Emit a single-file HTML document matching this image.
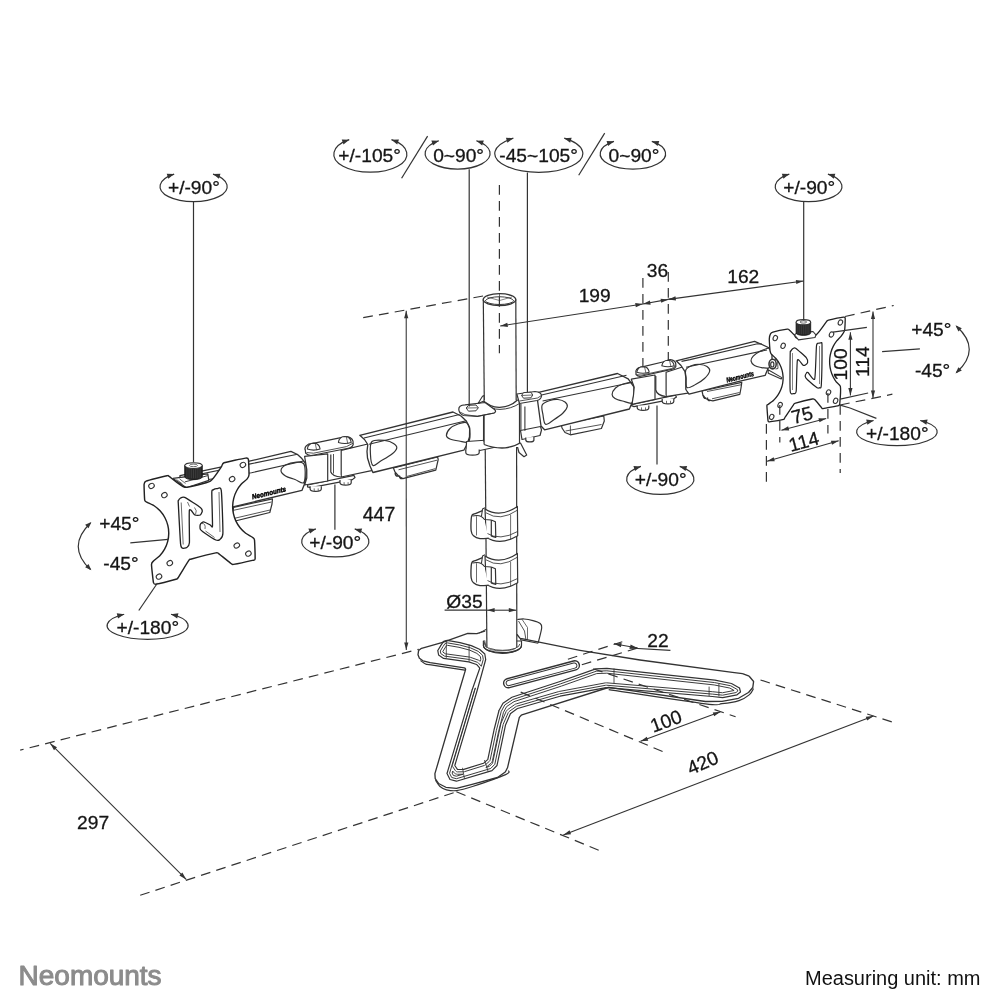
<!DOCTYPE html>
<html><head><meta charset="utf-8"><style>
html,body{margin:0;padding:0;background:#fff;}
svg{display:block;font-family:"Liberation Sans", sans-serif;filter:grayscale(1);}
</style></head><body>
<svg width="1004" height="1004" viewBox="0 0 1004 1004">
<rect width="1004" height="1004" fill="#fff"/>
<path d="M420.50,660.60 C421.42,661.20 424.25,663.48 426.00,664.20 C427.75,664.92 424.25,663.88 431.00,664.90 C437.75,665.92 460.58,669.40 466.50,670.30" fill="none" stroke="#333" stroke-width="1.20" stroke-linejoin="round"/>
<path d="M435.50,780.20 C436.25,781.25 438.17,784.90 440.00,786.50 C441.83,788.10 443.73,789.12 446.50,789.80 C449.27,790.48 452.27,791.15 456.60,790.60 C460.93,790.05 464.33,789.17 472.50,786.50 C480.67,783.83 499.60,777.27 505.60,774.60 C511.60,771.93 508.02,771.18 508.50,770.50" fill="none" stroke="#333" stroke-width="1.20" stroke-linejoin="round"/>
<path d="M608.70,689.60 C624.83,691.97 686.62,701.47 705.50,703.80 C724.38,706.13 716.42,704.13 722.00,703.60 C727.58,703.07 734.42,702.10 739.00,700.60 C743.58,699.10 747.08,696.62 749.50,694.60 C751.92,692.58 752.83,689.52 753.50,688.50" fill="none" stroke="#333" stroke-width="1.20" stroke-linejoin="round"/>
<path d="M418.00,654.60 L418.01,654.64 L419.39,658.17 L419.40,658.20 L419.43,658.22 L422.97,660.78 L423.00,660.80 L423.03,660.81 L430.07,662.59 L430.13,662.61 L464.30,667.94 L464.45,667.97 L464.59,668.01 L464.73,668.07 L464.86,668.14 L464.99,668.23 L465.10,668.33 L465.21,668.44 L465.30,668.55 L465.38,668.68 L465.45,668.82 L465.50,668.96 L465.54,669.10 L465.56,669.25 L465.57,669.40 L465.57,669.55 L465.54,669.70 L465.51,669.85 L459.50,690.00 L434.91,773.67 L434.90,773.70 L434.90,773.73 L435.20,778.46 L435.20,778.50 L435.22,778.53 L438.48,783.47 L438.50,783.50 L438.53,783.52 L445.87,787.28 L445.90,787.30 L445.94,787.30 L456.37,788.30 L456.40,788.30 L456.43,788.29 L472.10,784.30 L472.10,784.30 L497.47,777.51 L497.50,777.50 L497.53,777.48 L505.27,772.02 L505.30,772.00 L505.32,771.97 L507.58,767.44 L507.60,767.40 L507.61,767.36 L519.21,717.78 L519.25,717.63 L519.31,717.49 L519.38,717.36 L519.47,717.23 L519.57,717.11 L521.23,715.30 L521.34,715.19 L521.46,715.09 L521.60,715.00 L521.74,714.93 L521.88,714.88 L608.37,687.50 L608.50,687.47 L608.64,687.45 L608.77,687.43 L608.91,687.44 L609.04,687.45 L705.47,701.50 L705.50,701.50 L705.53,701.50 L721.97,701.30 L722.00,701.30 L722.03,701.29 L738.47,698.31 L738.50,698.30 L738.53,698.28 L748.46,692.52 L748.50,692.50 L748.53,692.47 L752.78,687.53 L752.80,687.50 L752.80,687.46 L753.59,681.54 L753.60,681.50 L753.58,681.47 L749.22,676.23 L749.20,676.20 L749.16,676.19 L742.54,673.62 L742.50,673.60 L742.45,673.59 L732.40,672.30 L732.40,672.30 L640.02,660.00 L639.98,660.00 L580.03,650.40 L579.97,650.39 L520.54,638.41 L520.39,638.37 L520.25,638.32 L520.12,638.25 L519.99,638.18 L519.87,638.08 L519.76,637.98 L519.66,637.87 L517.02,634.53 L517.00,634.50 L516.96,634.50 L487.03,630.30 L487.00,630.30 L486.97,630.31 L476.94,633.52 L476.78,633.57 L476.61,633.59 L476.45,633.59 L467.83,633.40 L467.80,633.40 L467.77,633.41 L441.85,642.58 L441.75,642.61 L421.54,648.29 L421.50,648.30 L421.47,648.32 L418.63,650.58 L418.60,650.60 L418.59,650.63 L418.01,654.56 L418.00,654.60 Z" fill="#fff" stroke="#333" stroke-width="1.32" stroke-linejoin="round"/>
<path d="M437.80,650.50 L437.80,650.52 L438.60,654.99 L438.60,655.00 L438.61,655.01 L443.59,658.39 L443.60,658.40 L443.61,658.40 L468.64,661.79 L468.70,661.80 L468.76,661.82 L476.55,664.55 L476.61,664.57 L476.66,664.60 L476.71,664.64 L476.76,664.68 L476.80,664.72 L479.57,667.94 L479.61,667.98 L479.64,668.03 L479.67,668.08 L479.69,668.13 L479.70,668.19 L479.71,668.25 L479.72,668.30 L479.72,668.36 L479.71,668.42 L479.70,668.47 L479.68,668.53 L472.10,689.99 L472.10,690.01 L447.00,773.49 L447.00,773.50 L447.01,773.51 L449.99,779.49 L450.00,779.50 L450.01,779.50 L456.39,781.20 L456.40,781.20 L456.41,781.20 L491.99,770.60 L492.00,770.60 L492.01,770.59 L496.99,765.51 L497.00,765.50 L497.00,765.49 L505.49,725.06 L505.50,725.00 L505.52,724.94 L510.43,713.65 L510.46,713.60 L510.49,713.56 L510.52,713.51 L510.55,713.47 L510.59,713.44 L510.64,713.40 L517.42,708.56 L517.47,708.52 L517.53,708.49 L517.60,708.47 L559.97,696.21 L560.03,696.19 L606.12,687.61 L606.17,687.61 L606.23,687.60 L606.28,687.61 L712.29,696.50 L712.31,696.50 L722.69,697.60 L722.70,697.60 L722.71,697.60 L736.99,694.80 L737.00,694.80 L737.01,694.79 L740.49,692.01 L740.50,692.00 L740.50,691.99 L739.50,688.01 L739.50,688.00 L739.49,687.99 L731.51,683.51 L731.50,683.50 L731.48,683.50 L714.91,680.20 L714.89,680.20 L606.92,668.40 L606.88,668.40 L595.82,668.80 L595.80,668.80 L595.79,668.81 L560.01,681.50 L559.99,681.50 L511.91,697.30 L511.90,697.30 L511.89,697.31 L503.01,703.19 L503.00,703.20 L502.99,703.21 L499.01,710.49 L499.00,710.50 L499.00,710.51 L494.00,729.99 L494.00,730.01 L487.84,759.30 L487.83,759.36 L487.81,759.41 L487.79,759.46 L487.76,759.51 L487.73,759.55 L487.69,759.59 L487.65,759.63 L483.70,763.12 L483.65,763.15 L483.59,763.19 L483.54,763.22 L483.48,763.24 L463.78,769.37 L463.73,769.39 L463.67,769.40 L463.61,769.40 L457.83,769.49 L457.77,769.49 L457.71,769.48 L457.65,769.47 L457.59,769.45 L457.54,769.43 L457.49,769.40 L457.44,769.36 L457.39,769.32 L457.35,769.28 L457.32,769.23 L454.96,765.74 L454.93,765.68 L454.90,765.63 L454.88,765.58 L454.87,765.52 L454.86,765.46 L454.86,765.40 L454.86,765.34 L454.87,765.29 L454.88,765.23 L477.30,690.00 L477.30,690.00 L485.70,659.52 L485.70,659.50 L485.70,659.48 L484.80,654.01 L484.80,654.00 L484.79,653.99 L479.51,649.31 L479.50,649.30 L479.49,649.29 L471.31,645.61 L471.30,645.60 L471.29,645.60 L460.01,642.60 L459.99,642.60 L447.22,640.40 L447.20,640.40 L447.18,640.40 L443.61,641.40 L443.60,641.40 L443.59,641.41 L440.90,645.39 L440.90,645.41 L437.81,650.49 L437.80,650.50 Z" fill="none" stroke="#333" stroke-width="1.20" stroke-linejoin="round"/>
<path d="M440.32,650.97 L440.79,653.58 L444.48,656.10 L468.96,659.41 L469.08,659.43 L469.14,659.44 L469.38,659.50 L469.43,659.52 L469.55,659.55 L477.34,662.28 L477.46,662.33 L477.52,662.35 L477.74,662.46 L477.80,662.49 L478.01,662.62 L478.07,662.65 L478.27,662.80 L478.31,662.85 L478.50,663.02 L478.54,663.06 L478.62,663.16 L481.34,666.31 L483.25,659.37 L482.57,655.23 L478.18,651.34 L470.49,647.87 L459.49,644.95 L447.32,642.86 L445.09,643.48 L442.93,646.69 L440.32,650.97 Z M475.40,687.88 L474.38,690.74 L449.57,773.28 L451.66,777.46 L456.36,778.71 L490.72,768.48 L494.80,764.32 L503.14,724.57 L503.17,724.45 L503.18,724.39 L503.26,724.16 L503.28,724.10 L503.32,723.99 L508.23,712.70 L508.28,712.60 L508.30,712.55 L508.41,712.36 L508.43,712.31 L508.55,712.13 L508.59,712.09 L508.72,711.92 L508.76,711.88 L508.91,711.73 L508.95,711.69 L509.11,711.55 L509.15,711.52 L509.24,711.45 L516.02,706.61 L516.13,706.53 L516.19,706.49 L516.43,706.36 L516.49,706.33 L516.74,706.23 L516.80,706.21 L516.93,706.17 L559.30,693.90 L559.42,693.87 L559.47,693.86 L559.59,693.84 L605.68,685.26 L605.79,685.24 L605.84,685.23 L606.05,685.21 L606.11,685.21 L606.32,685.21 L606.37,685.21 L606.48,685.22 L712.49,694.11 L712.52,694.11 L712.53,694.11 L712.56,694.11 L722.59,695.18 L735.96,692.56 L737.80,691.09 L737.42,689.58 L730.66,685.78 L714.53,682.57 L606.81,670.80 L596.25,671.19 L560.81,683.76 L560.78,683.77 L560.77,683.77 L560.74,683.78 L512.96,699.48 L504.82,704.87 L501.25,711.39 L496.34,730.54 L490.19,759.80 L490.16,759.91 L490.15,759.96 L490.09,760.17 L490.07,760.22 L489.98,760.42 L489.96,760.47 L489.86,760.67 L489.83,760.72 L489.71,760.90 L489.68,760.95 L489.54,761.12 L489.51,761.16 L489.36,761.32 L489.32,761.36 L489.24,761.43 L485.28,764.92 L485.19,765.00 L485.14,765.04 L484.93,765.18 L484.88,765.22 L484.66,765.34 L484.60,765.37 L484.37,765.47 L484.31,765.49 L484.19,765.53 L464.50,771.67 L464.39,771.70 L464.33,771.71 L464.11,771.76 L464.05,771.77 L463.82,771.79 L463.77,771.80 L463.65,771.80 L457.86,771.89 L457.74,771.89 L457.69,771.89 L457.45,771.87 L457.39,771.86 L457.15,771.82 L457.10,771.81 L456.87,771.74 L456.81,771.72 L456.59,771.63 L456.54,771.61 L456.32,771.50 L456.27,771.47 L456.07,771.34 L456.03,771.30 L455.84,771.15 L455.80,771.11 L455.63,770.95 L455.59,770.90 L455.43,770.72 L455.40,770.67 L455.33,770.57 L452.97,767.08 L452.91,766.98 L452.88,766.93 L452.76,766.72 L452.74,766.67 L452.65,766.45 L452.63,766.40 L452.56,766.17 L452.54,766.11 L452.50,765.88 L452.49,765.82 L452.46,765.59 L452.46,765.53 L452.46,765.30 L452.46,765.24 L452.48,765.00 L452.49,764.94 L452.54,764.71 L452.55,764.66 L452.58,764.54 L474.99,689.34 L475.40,687.88 Z" fill="none" stroke="#333" stroke-width="0.96" stroke-linejoin="round"/>
<path d="M442.84,651.44 L442.97,652.16 L445.36,653.79 L469.29,657.04 L469.52,657.07 L469.58,657.09 L470.05,657.20 L470.11,657.22 L470.34,657.29 L478.13,660.02 L478.37,660.11 L478.43,660.13 L478.88,660.34 L478.94,660.37 L479.37,660.63 L479.42,660.67 L479.82,660.97 L479.86,661.01 L480.21,661.34 L480.79,659.25 L480.34,656.47 L476.87,653.38 L469.70,650.14 L458.99,647.30 L447.46,645.32 L446.60,645.55 L444.94,647.99 L442.84,651.44 Z M452.75,771.04 L452.15,773.05 L453.32,775.41 L456.32,776.21 L463.03,774.21 L457.90,774.29 L457.66,774.29 L457.60,774.29 L457.13,774.25 L457.07,774.24 L456.60,774.16 L456.54,774.14 L456.09,774.01 L456.03,773.99 L455.59,773.81 L455.53,773.79 L455.11,773.57 L455.06,773.54 L454.66,773.28 L454.61,773.24 L454.24,772.94 L454.20,772.90 L453.86,772.57 L453.82,772.52 L453.51,772.16 L453.48,772.11 L453.34,771.92 L452.75,771.04 Z M485.84,767.43 L489.43,766.36 L492.58,763.15 L500.79,724.07 L500.85,723.84 L500.86,723.78 L501.01,723.31 L501.03,723.26 L501.12,723.03 L506.03,711.74 L506.12,711.54 L506.15,711.49 L506.35,711.11 L506.38,711.07 L506.62,710.71 L506.65,710.67 L506.93,710.33 L506.96,710.29 L507.26,709.98 L507.30,709.94 L507.63,709.66 L507.67,709.63 L507.85,709.50 L514.63,704.65 L514.85,704.50 L514.91,704.47 L515.38,704.20 L515.44,704.17 L515.94,703.97 L516.01,703.94 L516.26,703.86 L558.64,691.60 L558.86,691.54 L558.92,691.52 L559.15,691.48 L605.24,682.90 L605.45,682.86 L605.51,682.85 L605.93,682.81 L605.99,682.81 L606.41,682.81 L606.47,682.81 L606.68,682.82 L712.69,691.72 L712.75,691.72 L712.76,691.72 L712.81,691.73 L722.47,692.75 L734.10,690.48 L729.82,688.07 L714.18,684.95 L606.75,673.21 L596.72,673.57 L561.61,686.02 L561.56,686.04 L561.54,686.04 L561.49,686.06 L514.02,701.65 L506.65,706.54 L503.50,712.27 L498.68,731.08 L492.54,760.29 L492.49,760.51 L492.47,760.56 L492.35,760.98 L492.33,761.03 L492.16,761.44 L492.14,761.49 L491.93,761.88 L491.90,761.92 L491.67,762.29 L491.63,762.34 L491.36,762.68 L491.33,762.73 L491.02,763.05 L490.99,763.08 L490.82,763.23 L486.87,766.72 L486.68,766.88 L486.63,766.92 L486.22,767.21 L486.16,767.24 L485.84,767.43 Z" fill="none" stroke="#333" stroke-width="0.96" stroke-linejoin="round"/>
<path d="M446.30,640.60 L446.30,657.80" fill="none" stroke="#333" stroke-width="0.84" stroke-linejoin="round"/>
<path d="M469.10,644.80 L469.10,661.50" fill="none" stroke="#333" stroke-width="0.84" stroke-linejoin="round"/>
<path d="M709.10,686.60 L709.10,696.00" fill="none" stroke="#333" stroke-width="0.84" stroke-linejoin="round"/>
<path d="M718.90,684.00 L718.90,696.40" fill="none" stroke="#333" stroke-width="0.84" stroke-linejoin="round"/>
<path d="M614.00,668.50 L614.00,683.50" fill="none" stroke="#333" stroke-width="0.84" stroke-linejoin="round"/>
<path d="M462.50,767.80 L464.50,779.00" fill="none" stroke="#333" stroke-width="0.84" stroke-linejoin="round"/>
<path d="M484.50,760.00 L488.30,772.00" fill="none" stroke="#333" stroke-width="0.84" stroke-linejoin="round"/>
<rect x="502.5" y="669.6999999999999" width="78" height="9.2" rx="4.6" fill="#fff" stroke="#333" stroke-width="1.44" transform="rotate(-14.9 541.5 674.3)"/>
<rect x="505.0" y="671.6999999999999" width="73" height="5.2" rx="2.6" fill="none" stroke="#333" stroke-width="0.96" transform="rotate(-14.9 541.5 674.3)"/>
<path d="M483.4,645.5 A19,7.2 0 0 0 521.5,645.5 L521.5,641 L483.4,641 Z" fill="#fff" stroke="#333" stroke-width="1.20" stroke-linejoin="round"/>
<path d="M485.2,644 A17,6.2 0 0 0 519.8,644" fill="none" stroke="#333" stroke-width="0.84" stroke-linejoin="round"/>
<path d="M517.30,619.50 C518.42,619.42 521.38,618.82 524.00,619.00 C526.62,619.18 530.35,619.88 533.00,620.60 C535.65,621.32 538.45,622.10 539.90,623.30 C541.35,624.50 542.00,624.48 541.70,627.80 C541.40,631.12 538.70,640.63 538.10,643.20" fill="none" stroke="#333" stroke-width="1.20" stroke-linejoin="round"/>
<path d="M520.00,639.60 L538.10,643.20" fill="none" stroke="#333" stroke-width="1.08" stroke-linejoin="round"/>
<path d="M518.50,621.00 L524.50,631.00 L526.00,640.00" fill="none" stroke="#333" stroke-width="0.84" stroke-linejoin="round"/>
<path d="M522.00,619.30 L527.50,627.50 L527.50,640.00" fill="none" stroke="#333" stroke-width="0.72" stroke-linejoin="round"/>
<rect x="485.3" y="446" width="31.4" height="201.5" fill="#fff"/>
<path d="M485.20,446.00 L486.90,647.50" fill="none" stroke="#333" stroke-width="1.20" stroke-linejoin="round"/>
<path d="M516.60,446.00 L516.80,647.50" fill="none" stroke="#333" stroke-width="1.20" stroke-linejoin="round"/>
<path d="M483.4,645.5 A19,7.8 0 0 0 521.5,645.5" fill="none" stroke="#333" stroke-width="1.20" stroke-linejoin="round"/>
<path d="M486.9,647.0 A15,4.2 0 0 0 516.8,647.0" fill="none" stroke="#333" stroke-width="0.72" stroke-linejoin="round"/>
<path d="M484.3,641.5 Q485.5,646.5 486.9,647.0" fill="none" stroke="#555" stroke-width="1.92" stroke-linejoin="round"/>
<path d="M479.50,633.00 L487.00,628.80" fill="none" stroke="#333" stroke-width="0.96" stroke-linejoin="round"/>
<path d="M485.0,509.0 Q500,518.5 517.4,506.5 L517.7,535.8 Q500,546 486.2,537.2 Z" fill="#fff" stroke="#333" stroke-width="1.20" stroke-linejoin="round"/>
<path d="M486,512.8 Q500,522 517.4,510.2" fill="none" stroke="#333" stroke-width="0.84" stroke-linejoin="round"/>
<path d="M486.2,533.0 Q500,541.5 517.6,531.5" fill="none" stroke="#333" stroke-width="0.84" stroke-linejoin="round"/>
<path d="M510.60,514.50 L510.60,539.80" fill="none" stroke="#333" stroke-width="0.72" stroke-linejoin="round"/>
<path d="M482.50,510.60 C481.42,511.07 477.72,512.67 476.00,513.40 C474.28,514.13 473.00,514.07 472.20,515.00 C471.40,515.93 471.37,516.33 471.20,519.00 C471.03,521.67 470.82,528.20 471.20,531.00 C471.58,533.80 472.03,534.53 473.50,535.80 C474.97,537.07 477.50,538.20 480.00,538.60 C482.50,539.00 487.08,538.27 488.50,538.20" fill="#fff" stroke="#333" stroke-width="1.32" stroke-linejoin="round"/>
<path d="M491.30,520.00 L491.30,536.20" fill="none" stroke="#333" stroke-width="1.20" stroke-linejoin="round"/>
<path d="M491.30,520.00 L495.40,521.80 L495.80,537.30 L491.30,536.20" fill="none" stroke="#333" stroke-width="1.20" stroke-linejoin="round"/>
<path d="M472.5,516 Q481,514 484.5,519.5 L491.3,520" fill="none" stroke="#333" stroke-width="1.08" stroke-linejoin="round"/>
<path d="M476.50,516.20 L476.50,535.50" fill="none" stroke="#333" stroke-width="0.72" stroke-linejoin="round"/>
<path d="M481.50,516.00 L482.50,509.00 L485.00,507.80" fill="none" stroke="#333" stroke-width="1.08" stroke-linejoin="round"/>
<path d="M485.0,556.0 Q500,565.5 517.4,553.5 L517.7,582.8 Q500,593 486.2,584.2 Z" fill="#fff" stroke="#333" stroke-width="1.20" stroke-linejoin="round"/>
<path d="M486,559.8 Q500,569 517.4,557.2" fill="none" stroke="#333" stroke-width="0.84" stroke-linejoin="round"/>
<path d="M486.2,580.0 Q500,588.5 517.6,578.5" fill="none" stroke="#333" stroke-width="0.84" stroke-linejoin="round"/>
<path d="M510.60,561.50 L510.60,586.80" fill="none" stroke="#333" stroke-width="0.72" stroke-linejoin="round"/>
<path d="M482.50,557.60 C481.42,558.07 477.72,559.67 476.00,560.40 C474.28,561.13 473.00,561.07 472.20,562.00 C471.40,562.93 471.37,563.33 471.20,566.00 C471.03,568.67 470.82,575.20 471.20,578.00 C471.58,580.80 472.03,581.53 473.50,582.80 C474.97,584.07 477.50,585.20 480.00,585.60 C482.50,586.00 487.08,585.27 488.50,585.20" fill="#fff" stroke="#333" stroke-width="1.32" stroke-linejoin="round"/>
<path d="M491.30,567.00 L491.30,583.20" fill="none" stroke="#333" stroke-width="1.20" stroke-linejoin="round"/>
<path d="M491.30,567.00 L495.40,568.80 L495.80,584.30 L491.30,583.20" fill="none" stroke="#333" stroke-width="1.20" stroke-linejoin="round"/>
<path d="M472.5,563 Q481,561 484.5,566.5 L491.3,567" fill="none" stroke="#333" stroke-width="1.08" stroke-linejoin="round"/>
<path d="M476.50,563.20 L476.50,582.50" fill="none" stroke="#333" stroke-width="0.72" stroke-linejoin="round"/>
<path d="M481.50,563.00 L482.50,556.00 L485.00,554.80" fill="none" stroke="#333" stroke-width="1.08" stroke-linejoin="round"/>
<rect x="483.5" y="299" width="32.5" height="104" fill="#fff"/>
<path d="M483.30,299.50 L484.30,404.00" fill="none" stroke="#333" stroke-width="1.20" stroke-linejoin="round"/>
<path d="M515.80,299.50 L516.20,404.00" fill="none" stroke="#333" stroke-width="1.20" stroke-linejoin="round"/>
<ellipse cx="499.50" cy="299.60" rx="16.3" ry="6.0" fill="#fff" stroke="#333" stroke-width="1.32"/>
<path d="M485.3,300.8 A14.3,4.6 0 0 1 513.7,300.8" fill="none" stroke="#333" stroke-width="0.96" stroke-linejoin="round"/>
<path d="M485.3,300.8 A14.3,4.2 0 0 0 513.7,300.8" fill="none" stroke="#333" stroke-width="0.96" stroke-linejoin="round"/>
<path d="M499.50,293.80 L499.50,300.50" fill="none" stroke="#333" stroke-width="0.72" stroke-linejoin="round"/>
<path d="M487.00,297.00 L499.50,300.50 L512.00,297.00" fill="none" stroke="#333" stroke-width="0.60" stroke-linejoin="round"/>
<path d="M233.50,507.30 L272.50,498.80 L272.00,504.00 L269.80,512.50 L235.20,521.00 L232.50,516.00 Z" fill="#fff" stroke="#333" stroke-width="1.20" stroke-linejoin="round"/>
<path d="M233.50,510.30 L271.50,502.00" fill="none" stroke="#333" stroke-width="0.84" stroke-linejoin="round"/>
<path d="M234.50,518.30 L270.00,510.00" fill="none" stroke="#333" stroke-width="0.84" stroke-linejoin="round"/>
<path d="M180.00,475.60 L249.30,461.20 L290.90,451.30 L297.50,454.50 L301.90,458.60 L305.50,463.50 L306.80,469.60 L305.80,478.00 L304.10,484.90 L301.90,490.40 L232.90,506.80 L180.00,519.00 Z" fill="#fff" stroke="#333" stroke-width="1.32" stroke-linejoin="round"/>
<path d="M180.00,478.20 L249.20,464.10 L297.50,454.30" fill="none" stroke="#333" stroke-width="1.08" stroke-linejoin="round"/>
<path d="M180.00,484.00 L251.50,472.70 L303.50,461.00" fill="none" stroke="#333" stroke-width="1.08" stroke-linejoin="round"/>
<path d="M281.00,470.50 C281.08,468.63 283.42,466.18 286.00,464.80 C288.58,463.42 293.58,462.42 296.50,462.20 C299.42,461.98 302.05,461.87 303.50,463.50 C304.95,465.13 305.18,468.78 305.20,472.00 C305.22,475.22 305.30,481.55 303.60,482.80 C301.90,484.05 298.02,480.63 295.00,479.50 C291.98,478.37 287.83,477.50 285.50,476.00 C283.17,474.50 280.92,472.37 281.00,470.50 Z" fill="none" stroke="#333" stroke-width="1.20" stroke-linejoin="round"/>
<text x="252.5" y="499.3" font-size="7" font-weight="bold" font-style="italic" fill="#000" stroke="#000" stroke-width="0.45" transform="rotate(-13.5 252.5 499.3)" textLength="35" lengthAdjust="spacingAndGlyphs">Neomounts</text>
<path d="M307.70,485.00 L354.00,475.40 L355.00,477.50 L352.40,479.60 L310.90,487.60 L307.50,486.80 Z" fill="#fff" stroke="#333" stroke-width="1.20" stroke-linejoin="round"/>
<path d="M310.09999999999997,486.2 L310.09999999999997,489.0 A5.6,2.4 0 0 0 321.3,489.0 L321.3,486.2" fill="#fff" stroke="#333" stroke-width="1.20" stroke-linejoin="round"/>
<path d="M314.20,488.40 L314.20,491.20" fill="none" stroke="#333" stroke-width="0.72" stroke-linejoin="round"/>
<path d="M318.20,488.40 L318.20,491.00" fill="none" stroke="#333" stroke-width="0.72" stroke-linejoin="round"/>
<path d="M340.0,480.0 L340.0,482.8 A5.6,2.4 0 0 0 351.20000000000005,482.8 L351.20000000000005,480.0" fill="#fff" stroke="#333" stroke-width="1.20" stroke-linejoin="round"/>
<path d="M344.10,482.20 L344.10,485.00" fill="none" stroke="#333" stroke-width="0.72" stroke-linejoin="round"/>
<path d="M348.10,482.20 L348.10,484.80" fill="none" stroke="#333" stroke-width="0.72" stroke-linejoin="round"/>
<path d="M341.20,450.30 L369.90,443.50 L371.50,447.00 L372.00,458.00 L371.50,470.60 L341.20,477.00 Z" fill="#fff" stroke="#333" stroke-width="1.20" stroke-linejoin="round"/>
<path d="M330.8,454.5 L330.8,472.0 Q332.5,476.5 341.2,477.0" fill="#fff" stroke="#333" stroke-width="1.20" stroke-linejoin="round"/>
<path d="M333.50,454.00 L333.50,473.50" fill="none" stroke="#333" stroke-width="0.84" stroke-linejoin="round"/>
<path d="M304.60,456.30 L327.70,453.90 L327.70,481.00 L304.60,485.00 L306.80,478.00 L306.80,469.60 Z" fill="#fff" stroke="#333" stroke-width="1.20" stroke-linejoin="round"/>
<path d="M305.4,450.6 A7,5.2 0 0 1 312.0,443.6 L344.5,436.8 A7,5.2 0 0 1 353.0,441.2 L353.2,444.5 A7,5.2 0 0 1 347.0,448.5 L314.0,455.0 A7,5.2 0 0 1 305.6,453.2 Z" fill="#fff" stroke="#333" stroke-width="1.20" stroke-linejoin="round"/>
<path d="M306.50,452.50 L313.50,453.20 L346.50,446.60 L353.00,443.20" fill="none" stroke="#333" stroke-width="0.84" stroke-linejoin="round"/>
<path d="M307.3,449.0 Q308.09999999999997,443.2 313.7,443.1 Q319.3,443.2 320.09999999999997,449.0 Q313.7,451.2 307.3,449.0 Z" fill="#fff" stroke="#333" stroke-width="1.08" stroke-linejoin="round"/>
<path d="M315.20,443.30 L316.70,450.30" fill="none" stroke="#333" stroke-width="0.72" stroke-linejoin="round"/>
<path d="M338.40000000000003,442.4 Q339.2,436.59999999999997 344.8,436.5 Q350.40000000000003,436.59999999999997 351.2,442.4 Q344.8,444.59999999999997 338.40000000000003,442.4 Z" fill="#fff" stroke="#333" stroke-width="1.08" stroke-linejoin="round"/>
<path d="M346.30,436.70 L347.80,443.70" fill="none" stroke="#333" stroke-width="0.72" stroke-linejoin="round"/>
<path d="M393.40,468.00 L437.60,457.00 L438.20,459.50 L435.80,470.10 L402.90,478.60 L399.00,476.50 L395.00,472.00 Z" fill="#fff" stroke="#333" stroke-width="1.20" stroke-linejoin="round"/>
<path d="M407.00,476.40 L435.50,468.60" fill="none" stroke="#333" stroke-width="0.84" stroke-linejoin="round"/>
<path d="M398.50,469.80 L437.00,460.20" fill="none" stroke="#333" stroke-width="0.84" stroke-linejoin="round"/>
<path d="M395.2,473.0 Q395.3,476.3 398.0,476.0" fill="none" stroke="#333" stroke-width="1.44" stroke-linejoin="round"/>
<path d="M399.4,475.5 Q399.5,478.8 402.2,478.5" fill="none" stroke="#333" stroke-width="1.44" stroke-linejoin="round"/>
<path d="M359.80,435.30 L453.00,412.00 L461.00,416.00 L466.20,420.90 L469.70,428.00 L469.50,437.00 L467.00,444.50 L463.80,450.20 L372.90,472.50 L370.00,466.00 L367.50,458.00 L367.00,451.40 L367.80,444.50 L364.50,439.50 Z" fill="#fff" stroke="#333" stroke-width="1.32" stroke-linejoin="round"/>
<path d="M364.00,437.90 L459.50,414.60" fill="none" stroke="#333" stroke-width="1.08" stroke-linejoin="round"/>
<path d="M369.00,444.20 L466.20,420.80" fill="none" stroke="#333" stroke-width="1.08" stroke-linejoin="round"/>
<path d="M372.00,441.50 C374.58,439.10 382.42,440.27 386.00,440.60 C389.58,440.93 391.70,442.30 393.50,443.50 C395.30,444.70 397.05,446.05 396.80,447.80 C396.55,449.55 394.80,451.72 392.00,454.00 C389.20,456.28 383.17,459.58 380.00,461.50 C376.83,463.42 374.58,466.58 373.00,465.50 C371.42,464.42 370.67,459.00 370.50,455.00 C370.33,451.00 369.42,443.90 372.00,441.50 Z" fill="none" stroke="#333" stroke-width="1.20" stroke-linejoin="round"/>
<path d="M446.40,435.50 C446.40,433.75 448.07,430.42 450.00,428.50 C451.93,426.58 455.25,424.97 458.00,424.00 C460.75,423.03 464.55,421.70 466.50,422.70 C468.45,423.70 469.37,426.82 469.70,430.00 C470.03,433.18 470.28,439.97 468.50,441.80 C466.72,443.63 462.08,441.47 459.00,441.00 C455.92,440.53 452.10,439.92 450.00,439.00 C447.90,438.08 446.40,437.25 446.40,435.50 Z" fill="none" stroke="#333" stroke-width="1.20" stroke-linejoin="round"/>
<path d="M561.30,424.50 L603.80,416.00 L604.30,421.00 L601.40,428.50 L570.40,434.80 L565.00,432.50 L562.00,428.00 Z" fill="#fff" stroke="#333" stroke-width="1.20" stroke-linejoin="round"/>
<path d="M570.40,425.50 L570.40,434.50" fill="none" stroke="#333" stroke-width="0.84" stroke-linejoin="round"/>
<path d="M565.50,431.00 L601.50,424.50" fill="none" stroke="#333" stroke-width="0.84" stroke-linejoin="round"/>
<path d="M536.50,392.80 L617.50,373.50 L628.20,378.90 L634.20,387.30 L634.00,394.00 L633.00,400.40 L629.40,409.00 L544.60,429.80 L541.00,426.00 Z" fill="#fff" stroke="#333" stroke-width="1.32" stroke-linejoin="round"/>
<path d="M540.50,395.30 L626.50,375.20" fill="none" stroke="#333" stroke-width="1.08" stroke-linejoin="round"/>
<path d="M542.60,401.00 L631.80,382.50" fill="none" stroke="#333" stroke-width="1.08" stroke-linejoin="round"/>
<path d="M542.20,405.00 C543.37,402.58 547.37,401.42 550.00,400.50 C552.63,399.58 555.50,399.25 558.00,399.50 C560.50,399.75 563.45,400.83 565.00,402.00 C566.55,403.17 567.63,404.67 567.30,406.50 C566.97,408.33 565.30,410.75 563.00,413.00 C560.70,415.25 556.42,418.12 553.50,420.00 C550.58,421.88 547.25,425.13 545.50,424.30 C543.75,423.47 543.55,418.22 543.00,415.00 C542.45,411.78 541.03,407.42 542.20,405.00 Z" fill="none" stroke="#333" stroke-width="1.20" stroke-linejoin="round"/>
<path d="M612.10,394.50 C612.18,392.75 613.68,389.75 615.50,388.00 C617.32,386.25 620.17,384.92 623.00,384.00 C625.83,383.08 630.63,381.50 632.50,382.50 C634.37,383.50 634.12,386.62 634.20,390.00 C634.28,393.38 634.95,400.97 633.00,402.80 C631.05,404.63 625.50,401.72 622.50,401.00 C619.50,400.28 616.73,399.58 615.00,398.50 C613.27,397.42 612.02,396.25 612.10,394.50 Z" fill="none" stroke="#333" stroke-width="1.20" stroke-linejoin="round"/>
<path d="M632.00,404.30 L675.20,395.20 L676.50,397.00 L673.80,398.80 L634.00,406.60 L631.50,405.60 Z" fill="#fff" stroke="#333" stroke-width="1.20" stroke-linejoin="round"/>
<path d="M637.2,405.4 L637.2,408.0 A5.8,2.4 0 0 0 648.8,408.0 L648.8,405.4" fill="#fff" stroke="#333" stroke-width="1.20" stroke-linejoin="round"/>
<path d="M641.50,407.40 L641.50,410.20" fill="none" stroke="#333" stroke-width="0.72" stroke-linejoin="round"/>
<path d="M645.50,407.40 L645.50,410.00" fill="none" stroke="#333" stroke-width="0.72" stroke-linejoin="round"/>
<path d="M662.2,398.8 L662.2,401.40000000000003 A5.8,2.4 0 0 0 673.8,401.40000000000003 L673.8,398.8" fill="#fff" stroke="#333" stroke-width="1.20" stroke-linejoin="round"/>
<path d="M666.50,400.80 L666.50,403.60" fill="none" stroke="#333" stroke-width="0.72" stroke-linejoin="round"/>
<path d="M670.50,400.80 L670.50,403.40" fill="none" stroke="#333" stroke-width="0.72" stroke-linejoin="round"/>
<path d="M666.10,372.20 L687.80,365.20 L688.50,380.00 L687.80,393.10 L666.10,396.60 Z" fill="#fff" stroke="#333" stroke-width="1.20" stroke-linejoin="round"/>
<path d="M655.8,376.0 L655.8,390.0 Q657.0,395.5 666.1,396.6" fill="#fff" stroke="#333" stroke-width="1.20" stroke-linejoin="round"/>
<path d="M631.30,379.20 L655.00,375.00 L655.00,399.40 L632.00,404.30 L633.50,395.00 L634.20,387.30 Z" fill="#fff" stroke="#333" stroke-width="1.20" stroke-linejoin="round"/>
<path d="M636.0,372.8 A5.2,4.4 0 0 1 640.2,367.3 L667.0,361.0 A5.2,4.4 0 0 1 675.8,364.0 L675.8,366.8 A5.2,4.4 0 0 1 671.5,369.4 L642.0,376.0 A5.2,4.4 0 0 1 636.0,374.5 Z" fill="#fff" stroke="#333" stroke-width="1.20" stroke-linejoin="round"/>
<path d="M636.80,374.80 L642.00,375.00 L671.50,368.60 L675.50,366.00" fill="none" stroke="#333" stroke-width="0.84" stroke-linejoin="round"/>
<path d="M636.8,372.2 Q637.6,366.7 643.0,366.6 Q648.4,366.7 649.2,372.2 Q643.0,374.2 636.8,372.2 Z" fill="#fff" stroke="#333" stroke-width="1.08" stroke-linejoin="round"/>
<path d="M644.50,366.70 L646.00,373.30" fill="none" stroke="#333" stroke-width="0.72" stroke-linejoin="round"/>
<path d="M661.8,365.8 Q662.6,360.3 668.0,360.20000000000005 Q673.4,360.3 674.2,365.8 Q668.0,367.8 661.8,365.8 Z" fill="#fff" stroke="#333" stroke-width="1.08" stroke-linejoin="round"/>
<path d="M669.50,360.30 L671.00,366.90" fill="none" stroke="#333" stroke-width="0.72" stroke-linejoin="round"/>
<path d="M702.00,391.00 L741.80,382.40 L741.00,388.00 L739.80,394.40 L712.90,400.80 L709.50,400.20 L705.50,398.50 L703.00,395.50 Z" fill="#fff" stroke="#333" stroke-width="1.20" stroke-linejoin="round"/>
<path d="M712.00,398.80 L739.50,392.50" fill="none" stroke="#333" stroke-width="0.84" stroke-linejoin="round"/>
<path d="M707.00,391.50 L741.00,384.80" fill="none" stroke="#333" stroke-width="0.84" stroke-linejoin="round"/>
<path d="M703.4,395.3 Q703.5,398.6 706.2,398.3" fill="none" stroke="#333" stroke-width="1.44" stroke-linejoin="round"/>
<path d="M707.4,397.5 Q707.5,400.8 710.2,400.5" fill="none" stroke="#333" stroke-width="1.44" stroke-linejoin="round"/>
<path d="M676.20,360.80 L754.60,341.40 L762.00,344.50 L768.40,347.50 L772.00,352.00 L772.00,366.00 L768.10,368.30 L765.10,375.40 L740.00,381.20 L689.00,394.20 L686.50,390.50 L685.80,389.20 L685.90,378.00 L685.00,371.70 L681.00,365.50 Z" fill="#fff" stroke="#333" stroke-width="1.32" stroke-linejoin="round"/>
<path d="M681.50,361.40 L690.00,359.60 L757.50,343.70 L762.00,344.00" fill="none" stroke="#333" stroke-width="1.08" stroke-linejoin="round"/>
<path d="M686.00,367.20 L767.00,350.00" fill="none" stroke="#333" stroke-width="1.08" stroke-linejoin="round"/>
<path d="M685.80,370.00 C686.80,367.92 689.63,366.42 692.00,365.50 C694.37,364.58 697.50,364.33 700.00,364.50 C702.50,364.67 705.38,365.42 707.00,366.50 C708.62,367.58 710.12,369.00 709.70,371.00 C709.28,373.00 706.87,376.25 704.50,378.50 C702.13,380.75 698.42,382.98 695.50,384.50 C692.58,386.02 688.58,388.68 687.00,387.60 C685.42,386.52 686.20,380.93 686.00,378.00 C685.80,375.07 684.80,372.08 685.80,370.00 Z" fill="none" stroke="#333" stroke-width="1.20" stroke-linejoin="round"/>
<path d="M768.70,347.90 C767.25,348.47 762.58,349.92 760.00,351.30 C757.42,352.68 754.68,354.57 753.20,356.20 C751.72,357.83 750.88,359.55 751.10,361.10 C751.32,362.65 752.77,364.42 754.50,365.50 C756.23,366.58 759.23,367.13 761.50,367.60 C763.77,368.07 767.00,368.18 768.10,368.30" fill="none" stroke="#333" stroke-width="1.20" stroke-linejoin="round"/>
<text x="727.0" y="382.5" font-size="7" font-weight="bold" font-style="italic" fill="#000" stroke="#000" stroke-width="0.45" transform="rotate(-14 727 382.5)" textLength="28" lengthAdjust="spacingAndGlyphs">Neomounts</text>
<path d="M466.60,441.50 L495.50,439.50 L497.00,442.50 L496.20,447.00 L470.50,452.50 L466.00,450.00 Z" fill="#fff" stroke="#333" stroke-width="1.20" stroke-linejoin="round"/>
<path d="M465.8,449.5 L465.8,452.5 A6.7,2.6 0 0 0 479.2,452.5 L479.2,449.5" fill="#fff" stroke="#333" stroke-width="1.20" stroke-linejoin="round"/>
<path d="M520.50,430.50 L540.50,426.50 L541.50,430.00 L540.00,435.50 L522.00,439.50 Z" fill="#fff" stroke="#333" stroke-width="1.20" stroke-linejoin="round"/>
<path d="M525.8,437.5 L525.8,440.2 A4.1,2.1 0 0 0 533.9,440.2 L533.9,437.0" fill="#fff" stroke="#333" stroke-width="1.20" stroke-linejoin="round"/>
<path d="M516.80,444.50 L520.50,443.00 L526.70,455.00 L524.00,456.70 L519.00,452.50 Z" fill="#fff" stroke="#333" stroke-width="1.20" stroke-linejoin="round"/>
<rect x="484.1" y="400" width="35.4" height="47" fill="#fff"/>
<path d="M484.10,404.00 L484.10,444.50" fill="none" stroke="#333" stroke-width="1.20" stroke-linejoin="round"/>
<path d="M519.50,399.50 L519.50,443.50" fill="none" stroke="#333" stroke-width="1.20" stroke-linejoin="round"/>
<path d="M484.1,444.5 Q494,448.6 505.2,447.9 Q514.5,446.5 519.5,443.2" fill="none" stroke="#333" stroke-width="1.32" stroke-linejoin="round"/>
<path d="M481.9,399.5 Q490,407.6 499.8,407.3 Q511,406.8 517.7,399.8" fill="none" stroke="#333" stroke-width="1.32" stroke-linejoin="round"/>
<path d="M484.3,402.5 Q491,409.6 500,409.4 Q511,409 519.5,403.5" fill="none" stroke="#333" stroke-width="0.96" stroke-linejoin="round"/>
<path d="M458.8,409.2 Q458.6,405.2 465.0,404.8 L485,402.5 L494.5,409.5 Q496.8,411.5 494.2,413.0 L477.4,416.3 L463.5,415.5 Q458.8,413.5 458.8,409.2 Z" fill="#fff" stroke="#333" stroke-width="1.20" stroke-linejoin="round"/>
<path d="M459.50,411.80 L465.00,414.60 L477.40,416.30 L494.30,413.00" fill="none" stroke="#333" stroke-width="0.84" stroke-linejoin="round"/>
<path d="M466.20,408.00 L468.50,405.30 L476.00,405.00 L478.30,407.80 L476.00,410.80 L468.50,411.20 Z" fill="#fff" stroke="#333" stroke-width="0.96" stroke-linejoin="round"/>
<path d="M466.20,408.00 L478.30,407.80" fill="none" stroke="#333" stroke-width="0.72" stroke-linejoin="round"/>
<path d="M516.8,394.0 L535,391.5 Q541.5,392.0 541.5,396.0 Q541.0,399.5 537.0,400.5 L519.5,403.5 Z" fill="#fff" stroke="#333" stroke-width="1.20" stroke-linejoin="round"/>
<path d="M519.50,401.00 L537.50,398.00 L541.00,395.80" fill="none" stroke="#333" stroke-width="0.84" stroke-linejoin="round"/>
<path d="M521.60,395.50 L523.50,392.60 L531.00,392.20 L532.70,395.00 L531.00,397.80 L523.50,398.20 Z" fill="#fff" stroke="#333" stroke-width="0.96" stroke-linejoin="round"/>
<path d="M521.60,395.50 L532.70,395.00" fill="none" stroke="#333" stroke-width="0.72" stroke-linejoin="round"/>
<path d="M520.90,404.00 L520.90,430.00" fill="none" stroke="#333" stroke-width="1.08" stroke-linejoin="round"/>
<path d="M524.90,406.50 L524.90,430.70" fill="none" stroke="#333" stroke-width="1.08" stroke-linejoin="round"/>
<path d="M483.50,415.50 L483.50,441.50" fill="none" stroke="#333" stroke-width="1.08" stroke-linejoin="round"/>
<path d="M478.00,403.50 L482.50,396.20 L484.00,395.50 L484.00,401.00 Z" fill="#fff" stroke="#333" stroke-width="1.08" stroke-linejoin="round"/>
<path d="M173.00,478.40 L207.80,473.90 L208.80,480.40 L186.40,487.80 Z" fill="#fff" stroke="#333" stroke-width="1.20" stroke-linejoin="round"/>
<path d="M184.90,481.90 L207.80,475.60" fill="none" stroke="#333" stroke-width="0.96" stroke-linejoin="round"/>
<path d="M176.50,479.50 L182.50,484.00" fill="none" stroke="#333" stroke-width="0.72" stroke-linejoin="round"/>
<path d="M179.50,478.80 L185.50,483.50" fill="none" stroke="#333" stroke-width="0.72" stroke-linejoin="round"/>
<path d="M144.10,484.50 C144.22,482.92 144.18,481.83 146.10,481.10 C148.02,480.37 165.18,476.09 167.10,475.70 C169.02,475.31 167.63,475.44 169.10,476.40 C170.57,477.36 181.26,486.81 184.70,487.20 C188.14,487.59 207.35,482.79 210.40,481.10 C213.45,479.41 220.17,468.42 221.30,466.90 C222.43,465.38 221.97,463.53 224.00,462.80 C226.03,462.07 243.57,458.38 245.60,458.10 C247.63,457.82 248.12,457.99 248.40,459.40 C248.68,460.81 249.12,473.36 249.00,475.00 C248.88,476.64 247.65,478.32 247.00,479.10 C246.35,479.88 242.01,483.35 241.15,484.33 C240.28,485.30 237.27,489.62 236.66,490.77 C236.05,491.91 234.12,496.81 233.79,498.07 C233.46,499.32 232.71,504.54 232.68,505.84 C232.65,507.14 233.14,512.38 233.41,513.65 C233.68,514.92 235.37,519.91 235.92,521.09 C236.48,522.26 239.28,526.72 240.09,527.74 C240.90,528.75 244.66,532.44 245.68,533.24 C246.71,534.04 251.67,536.74 252.40,537.30 C253.13,537.86 254.28,538.19 254.50,540.00 C254.72,541.81 255.28,557.30 255.10,559.00 C254.92,560.70 254.20,559.95 252.40,560.40 C250.60,560.85 235.28,564.14 233.50,564.40 C231.72,564.66 232.24,564.40 231.00,563.50 C229.76,562.60 219.87,554.48 218.60,553.60 C217.33,552.72 218.06,552.45 215.80,552.90 C213.54,553.35 193.75,558.38 191.50,559.00 C189.25,559.62 189.93,558.82 188.80,560.40 C187.67,561.98 178.97,576.42 177.90,578.00 C176.83,579.58 177.70,578.79 175.90,579.30 C174.10,579.81 158.17,583.82 156.30,584.10 C154.43,584.38 153.90,584.34 153.50,582.70 C153.10,581.06 151.50,566.21 151.50,564.40 C151.50,562.59 152.81,561.72 153.50,561.00 C154.19,560.28 158.86,556.78 159.79,555.79 C160.71,554.81 163.95,550.38 164.60,549.20 C165.26,548.02 167.31,542.94 167.65,541.63 C168.00,540.33 168.74,534.89 168.75,533.54 C168.77,532.19 168.15,526.74 167.83,525.43 C167.51,524.12 165.57,518.99 164.94,517.79 C164.31,516.60 161.17,512.10 160.27,511.10 C159.37,510.10 155.22,506.51 154.10,505.76 C152.97,505.01 147.58,502.57 146.80,502.10 C146.02,501.63 144.92,501.57 144.70,500.10 C144.47,498.63 143.98,486.08 144.10,484.50 Z" fill="#fff" stroke="#222" stroke-width="1.44" stroke-linejoin="round"/>
<ellipse cx="151.50" cy="485.90" rx="2.9" ry="2.4" fill="#fff" stroke="#333" stroke-width="1.08" transform="rotate(-30 151.5 485.9)"/>
<ellipse cx="164.40" cy="495.10" rx="2.9" ry="2.4" fill="#fff" stroke="#333" stroke-width="1.08" transform="rotate(-30 164.4 495.1)"/>
<ellipse cx="232.10" cy="479.10" rx="2.9" ry="2.4" fill="#fff" stroke="#333" stroke-width="1.08" transform="rotate(-30 232.1 479.1)"/>
<ellipse cx="242.90" cy="464.90" rx="2.9" ry="2.4" fill="#fff" stroke="#333" stroke-width="1.08" transform="rotate(-30 242.9 464.9)"/>
<ellipse cx="236.80" cy="545.50" rx="2.9" ry="2.4" fill="#fff" stroke="#333" stroke-width="1.08" transform="rotate(-30 236.8 545.5)"/>
<ellipse cx="248.40" cy="553.60" rx="2.9" ry="2.4" fill="#fff" stroke="#333" stroke-width="1.08" transform="rotate(-30 248.4 553.6)"/>
<ellipse cx="169.80" cy="563.10" rx="2.9" ry="2.4" fill="#fff" stroke="#333" stroke-width="1.08" transform="rotate(-30 169.8 563.1)"/>
<ellipse cx="159.00" cy="576.60" rx="2.9" ry="2.4" fill="#fff" stroke="#333" stroke-width="1.08" transform="rotate(-30 159.0 576.6)"/>
<path d="M178.30,500.80 C178.53,500.25 179.96,498.34 180.60,498.00 C181.24,497.66 182.73,496.45 184.70,497.40 C186.67,498.35 198.54,506.15 200.30,507.50 C202.06,508.85 202.30,510.15 202.30,510.90 C202.30,511.65 201.04,514.59 200.30,515.00 C199.56,515.41 195.99,515.48 194.90,515.00 C193.81,514.52 189.95,507.42 189.40,510.20 C188.85,512.98 189.67,539.07 189.40,542.80 C189.13,546.53 187.37,546.96 186.70,547.50 C186.03,548.04 183.31,548.54 182.70,548.20 C182.09,547.86 181.04,548.57 180.60,544.10 C180.16,539.63 178.53,507.83 178.30,503.50 C178.07,499.17 178.07,501.35 178.30,500.80 Z" fill="#fff" stroke="#222" stroke-width="1.32"/>
<path d="M181.20,502.50 L183.20,544.50" fill="none" stroke="#333" stroke-width="0.72" stroke-linejoin="round"/>
<path d="M187.50,502.00 L189.50,506.50" fill="none" stroke="#333" stroke-width="0.72" stroke-linejoin="round"/>
<path d="M194.5,507.5 Q197.5,510.5 195.5,514.5" fill="none" stroke="#333" stroke-width="0.72" stroke-linejoin="round"/>
<path d="M213.10,489.90 C213.64,489.50 216.38,488.53 217.20,488.60 C218.02,488.67 220.73,486.13 221.30,490.60 C221.87,495.07 223.04,528.42 222.90,533.30 C222.76,538.18 220.61,538.73 219.90,539.40 C219.19,540.07 217.29,540.61 215.80,540.00 C214.31,539.39 206.55,534.38 205.00,533.30 C203.45,532.22 200.77,530.08 200.30,529.20 C199.83,528.32 199.96,525.24 200.30,524.50 C200.64,523.76 202.69,521.74 203.70,521.80 C204.71,521.86 209.52,524.70 210.40,525.10 C211.28,525.50 212.36,529.05 212.50,525.80 C212.64,522.55 211.74,496.19 211.80,492.60 C211.86,489.01 212.56,490.30 213.10,489.90 Z" fill="#fff" stroke="#222" stroke-width="1.32"/>
<path d="M219.00,492.00 L220.00,532.00" fill="none" stroke="#333" stroke-width="0.72" stroke-linejoin="round"/>
<path d="M205.50,531.00 L214.50,537.50" fill="none" stroke="#333" stroke-width="0.72" stroke-linejoin="round"/>
<path d="M201.5,523.5 Q206,523 205,529" fill="none" stroke="#333" stroke-width="0.72" stroke-linejoin="round"/>
<path d="M184.7,465.6 L184.7,476.8 A8.8,2.9 0 0 0 202.3,476.8 L202.3,465.6 Z" fill="#262626" stroke="#111" stroke-width="0.8"/>
<line x1="186.90" y1="467.6" x2="186.90" y2="478.3" stroke="#555" stroke-width="0.5"/>
<line x1="189.10" y1="467.6" x2="189.10" y2="478.3" stroke="#555" stroke-width="0.5"/>
<line x1="191.30" y1="467.6" x2="191.30" y2="478.3" stroke="#555" stroke-width="0.5"/>
<line x1="193.50" y1="467.6" x2="193.50" y2="478.3" stroke="#555" stroke-width="0.5"/>
<line x1="195.70" y1="467.6" x2="195.70" y2="478.3" stroke="#555" stroke-width="0.5"/>
<line x1="197.90" y1="467.6" x2="197.90" y2="478.3" stroke="#555" stroke-width="0.5"/>
<line x1="200.10" y1="467.6" x2="200.10" y2="478.3" stroke="#555" stroke-width="0.5"/>
<ellipse cx="193.50" cy="465.60" rx="8.8" ry="2.9" fill="#fff" stroke="#333" stroke-width="1.08"/>
<ellipse cx="193.50" cy="465.40" rx="3.9600000000000004" ry="1.305" fill="none" stroke="#333" stroke-width="0.72"/>
<path d="M769.90,349.40 C769.82,348.33 769.25,339.99 769.30,338.70 C769.35,337.41 770.20,334.45 770.50,333.90 C770.80,333.35 771.50,332.50 772.90,332.10 C774.30,331.70 785.96,329.30 787.30,329.10 C788.64,328.90 788.41,329.20 789.00,329.70 C789.59,330.20 793.75,334.40 794.40,335.10 C795.05,335.80 795.01,338.10 796.80,338.10 C798.59,338.10 813.41,336.49 815.90,335.10 C818.39,333.71 825.65,322.64 826.70,321.40 C827.75,320.16 827.11,320.55 828.50,320.20 C829.89,319.85 842.01,317.35 843.40,317.20 C844.79,317.05 845.10,317.31 845.20,318.40 C845.30,319.49 844.95,328.81 844.60,330.30 C844.25,331.79 841.66,335.42 841.00,336.30 C840.34,337.18 837.35,340.06 836.72,340.88 C836.08,341.70 833.82,345.24 833.35,346.17 C832.87,347.09 831.31,350.99 831.01,351.99 C830.71,352.98 829.89,357.10 829.78,358.13 C829.68,359.17 829.63,363.37 829.71,364.40 C829.79,365.44 830.52,369.58 830.79,370.58 C831.06,371.58 832.53,375.52 832.99,376.45 C833.44,377.39 835.61,380.98 836.23,381.82 C836.85,382.66 840.10,384.72 840.40,386.50 C840.70,388.28 839.95,401.61 839.80,403.20 C839.65,404.79 839.99,405.15 838.60,405.60 C837.21,406.05 824.52,408.44 823.10,408.60 C821.68,408.76 822.20,408.25 821.50,407.50 C820.80,406.75 815.47,400.31 814.70,399.60 C813.93,398.89 813.89,398.70 812.30,399.00 C810.71,399.30 797.17,402.72 795.60,403.20 C794.03,403.68 794.39,403.61 793.50,404.80 C792.61,405.99 785.72,416.29 784.90,417.50 C784.08,418.71 784.90,418.95 783.70,419.30 C782.50,419.65 771.80,421.55 770.50,421.70 C769.20,421.85 768.40,422.44 768.10,421.10 C767.80,419.76 766.90,406.99 766.90,405.60 C766.90,404.21 767.56,404.83 768.10,404.40 C768.64,403.97 772.60,401.19 773.41,400.44 C774.21,399.70 777.11,396.34 777.73,395.43 C778.35,394.53 780.46,390.63 780.87,389.61 C781.29,388.59 782.50,384.32 782.69,383.24 C782.87,382.16 783.13,377.73 783.08,376.64 C783.02,375.54 782.32,371.16 782.03,370.10 C781.74,369.04 780.11,364.91 779.60,363.94 C779.09,362.97 776.61,359.29 775.90,358.46 C775.19,357.62 771.58,354.48 771.10,353.90 C770.62,353.32 770.30,351.88 770.20,351.50 C770.10,351.12 769.98,350.47 769.90,349.40 Z" fill="#fff" stroke="#222" stroke-width="1.32" stroke-linejoin="round"/>
<ellipse cx="775.30" cy="338.10" rx="2.1" ry="2.7" fill="#fff" stroke="#333" stroke-width="1.08" transform="rotate(25 775.3 338.1)"/>
<ellipse cx="783.10" cy="345.80" rx="2.1" ry="2.7" fill="#fff" stroke="#333" stroke-width="1.08" transform="rotate(25 783.1 345.8)"/>
<ellipse cx="840.40" cy="322.50" rx="2.1" ry="2.7" fill="#fff" stroke="#333" stroke-width="1.08" transform="rotate(25 840.4 322.5)"/>
<ellipse cx="831.50" cy="334.50" rx="2.1" ry="2.7" fill="#fff" stroke="#333" stroke-width="1.08" transform="rotate(25 831.5 334.5)"/>
<ellipse cx="780.10" cy="405.00" rx="2.1" ry="2.7" fill="#fff" stroke="#333" stroke-width="1.08" transform="rotate(25 780.1 405.0)"/>
<ellipse cx="771.70" cy="416.90" rx="2.1" ry="2.7" fill="#fff" stroke="#333" stroke-width="1.08" transform="rotate(25 771.7 416.9)"/>
<ellipse cx="828.50" cy="392.40" rx="2.1" ry="2.7" fill="#fff" stroke="#333" stroke-width="1.08" transform="rotate(25 828.5 392.4)"/>
<ellipse cx="835.60" cy="400.80" rx="2.1" ry="2.7" fill="#fff" stroke="#333" stroke-width="1.08" transform="rotate(25 835.6 400.8)"/>
<path d="M790.80,351.20 C791.08,350.71 792.52,348.90 793.00,348.60 C793.48,348.30 794.26,347.28 795.60,348.20 C796.94,349.12 805.20,356.36 806.40,357.80 C807.60,359.24 807.74,361.86 807.60,362.60 C807.46,363.34 805.48,364.96 805.00,365.20 C804.52,365.44 803.56,365.50 802.80,365.00 C802.04,364.50 798.06,357.58 797.40,360.20 C796.74,362.82 796.62,387.86 796.20,391.20 C795.78,394.54 793.80,393.60 793.20,393.60 C792.60,393.60 790.50,395.21 790.20,391.20 C789.90,387.19 790.14,357.50 790.20,353.50 C790.26,349.50 790.52,351.69 790.80,351.20 Z" fill="#fff" stroke="#222" stroke-width="1.20"/>
<path d="M792.50,353.00 L792.50,390.00" fill="none" stroke="#333" stroke-width="0.60" stroke-linejoin="round"/>
<path d="M819.00,343.20 C819.45,342.92 820.70,342.82 821.00,343.00 C821.30,343.18 821.97,340.77 822.00,345.00 C822.03,349.23 821.55,381.03 821.30,385.30 C821.05,389.57 819.92,387.46 819.50,387.70 C819.08,387.94 818.30,388.49 817.10,387.70 C815.90,386.91 808.69,380.94 807.50,379.80 C806.31,378.66 805.30,376.98 805.20,376.30 C805.10,375.62 806.22,373.38 806.50,373.00 C806.78,372.62 807.18,371.90 808.00,372.50 C808.82,373.10 813.85,381.67 814.70,379.00 C815.55,376.33 816.07,349.38 816.50,345.80 C816.93,342.22 818.55,343.48 819.00,343.20 Z" fill="#fff" stroke="#222" stroke-width="1.20"/>
<path d="M819.50,346.00 L819.50,384.00" fill="none" stroke="#333" stroke-width="0.60" stroke-linejoin="round"/>
<path d="M794.40,334.80 L797.50,332.80 L813.00,331.50 L815.90,334.80 L815.00,337.50 L798.50,339.90 Z" fill="#fff" stroke="#333" stroke-width="1.08" stroke-linejoin="round"/>
<path d="M796.1,322.2 L796.1,332.8 A7.3,2.6 0 0 0 810.6999999999999,332.8 L810.6999999999999,322.2 Z" fill="#262626" stroke="#111" stroke-width="0.8"/>
<line x1="797.93" y1="324.2" x2="797.93" y2="334.3" stroke="#555" stroke-width="0.5"/>
<line x1="799.75" y1="324.2" x2="799.75" y2="334.3" stroke="#555" stroke-width="0.5"/>
<line x1="801.58" y1="324.2" x2="801.58" y2="334.3" stroke="#555" stroke-width="0.5"/>
<line x1="803.40" y1="324.2" x2="803.40" y2="334.3" stroke="#555" stroke-width="0.5"/>
<line x1="805.23" y1="324.2" x2="805.23" y2="334.3" stroke="#555" stroke-width="0.5"/>
<line x1="807.05" y1="324.2" x2="807.05" y2="334.3" stroke="#555" stroke-width="0.5"/>
<line x1="808.88" y1="324.2" x2="808.88" y2="334.3" stroke="#555" stroke-width="0.5"/>
<ellipse cx="803.40" cy="322.20" rx="7.3" ry="2.6" fill="#fff" stroke="#333" stroke-width="1.08"/>
<ellipse cx="803.40" cy="322.00" rx="3.285" ry="1.1700000000000002" fill="none" stroke="#333" stroke-width="0.72"/>
<path d="M768.10,369.80 L781.80,377.60 L781.20,379.00 L768.30,373.20 Z" fill="#fff" stroke="#333" stroke-width="1.08" stroke-linejoin="round"/>
<ellipse cx="772.60" cy="364.10" rx="3.6" ry="4.8" fill="#fff" stroke="#333" stroke-width="1.56"/>
<ellipse cx="772.30" cy="364.40" rx="1.6" ry="2.6" fill="#fff" stroke="#333" stroke-width="1.20"/>
<path d="M774.50,359.00 L777.50,360.50 L778.00,368.50 L775.50,369.00" fill="none" stroke="#333" stroke-width="0.84" stroke-linejoin="round"/>
<path d="M349.23,139.69 A36.55,17.9 0 1 0 391.47,139.69" fill="none" stroke="#333" stroke-width="1.20"/>
<path d="M349.23,139.69 L343.47,144.44 L341.76,139.53Z" fill="#333"/>
<path d="M391.47,139.69 L398.94,139.53 L397.23,144.44Z" fill="#333"/>
<text x="369.65" y="161.60" font-size="19.2" text-anchor="middle" fill="#151515" stroke="#151515" stroke-width="0.3">+/-105°</text>
<path d="M438.82,140.77 A32.5,15.6 0 1 0 476.38,140.77" fill="none" stroke="#333" stroke-width="1.20"/>
<path d="M438.82,140.77 L433.03,145.48 L431.36,140.56Z" fill="#333"/>
<path d="M476.38,140.77 L483.84,140.56 L482.17,145.48Z" fill="#333"/>
<text x="458.60" y="161.60" font-size="19.2" text-anchor="middle" fill="#151515" stroke="#151515" stroke-width="0.3">0~90°</text>
<path d="M513.37,138.16 A44.0,18.8 0 1 0 564.23,138.16" fill="none" stroke="#333" stroke-width="1.20"/>
<path d="M513.37,138.16 L507.43,142.67 L505.92,137.69Z" fill="#333"/>
<path d="M564.23,138.16 L571.68,137.69 L570.17,142.67Z" fill="#333"/>
<text x="538.60" y="161.60" font-size="19.2" text-anchor="middle" fill="#151515" stroke="#151515" stroke-width="0.3">-45~105°</text>
<path d="M614.00,141.31 A32.7,15.3 0 1 0 651.80,141.31" fill="none" stroke="#333" stroke-width="1.20"/>
<path d="M614.00,141.31 L608.18,145.98 L606.54,141.05Z" fill="#333"/>
<path d="M651.80,141.31 L659.26,141.05 L657.62,145.98Z" fill="#333"/>
<text x="634.00" y="161.60" font-size="19.2" text-anchor="middle" fill="#151515" stroke="#151515" stroke-width="0.3">0~90°</text>
<path d="M174.18,174.09 A33.6,15.2 0 1 0 213.02,174.09" fill="none" stroke="#333" stroke-width="1.20"/>
<path d="M174.18,174.09 L168.31,178.71 L166.72,173.75Z" fill="#333"/>
<path d="M213.02,174.09 L220.48,173.75 L218.89,178.71Z" fill="#333"/>
<text x="193.90" y="193.80" font-size="19.2" text-anchor="middle" fill="#151515" stroke="#151515" stroke-width="0.3">+/-90°</text>
<path d="M789.30,174.09 A33.4,15.2 0 1 0 827.90,174.09" fill="none" stroke="#333" stroke-width="1.20"/>
<path d="M789.30,174.09 L783.43,178.72 L781.84,173.77Z" fill="#333"/>
<path d="M827.90,174.09 L835.36,173.77 L833.77,178.72Z" fill="#333"/>
<text x="809.20" y="193.80" font-size="19.2" text-anchor="middle" fill="#151515" stroke="#151515" stroke-width="0.3">+/-90°</text>
<path d="M315.88,528.93 A33.6,15.4 0 1 0 354.72,528.93" fill="none" stroke="#333" stroke-width="1.20"/>
<path d="M315.88,528.93 L310.03,533.57 L308.42,528.62Z" fill="#333"/>
<path d="M354.72,528.93 L362.18,528.62 L360.57,533.57Z" fill="#333"/>
<text x="335.20" y="548.70" font-size="19.2" text-anchor="middle" fill="#151515" stroke="#151515" stroke-width="0.3">+/-90°</text>
<path d="M640.88,466.43 A33.6,15.4 0 1 0 679.72,466.43" fill="none" stroke="#333" stroke-width="1.20"/>
<path d="M640.88,466.43 L635.03,471.07 L633.42,466.12Z" fill="#333"/>
<path d="M679.72,466.43 L687.18,466.12 L685.57,471.07Z" fill="#333"/>
<text x="660.65" y="486.00" font-size="19.2" text-anchor="middle" fill="#151515" stroke="#151515" stroke-width="0.3">+/-90°</text>
<path d="M124.20,614.24 A40.5,13.8 0 1 0 171.00,614.24" fill="none" stroke="#333" stroke-width="1.20"/>
<path d="M124.20,614.24 L118.00,618.41 L116.78,613.35Z" fill="#333"/>
<path d="M171.00,614.24 L178.42,613.35 L177.20,618.41Z" fill="#333"/>
<text x="147.80" y="633.50" font-size="19.2" text-anchor="middle" fill="#151515" stroke="#151515" stroke-width="0.3">+/-180°</text>
<path d="M873.61,420.46 A40.3,13.9 0 1 0 920.19,420.46" fill="none" stroke="#333" stroke-width="1.20"/>
<path d="M873.61,420.46 L867.43,424.64 L866.20,419.59Z" fill="#333"/>
<path d="M920.19,420.46 L927.60,419.59 L926.37,424.64Z" fill="#333"/>
<text x="897.30" y="440.00" font-size="19.2" text-anchor="middle" fill="#151515" stroke="#151515" stroke-width="0.3">+/-180°</text>
<line x1="427.60" y1="136.10" x2="401.60" y2="178.20" stroke="#333" stroke-width="1.20"/>
<line x1="604.70" y1="133.10" x2="578.70" y2="175.20" stroke="#333" stroke-width="1.20"/>
<line x1="193.50" y1="201.70" x2="193.50" y2="462.00" stroke="#333" stroke-width="1.20"/>
<line x1="803.70" y1="201.70" x2="803.70" y2="320.40" stroke="#333" stroke-width="1.20"/>
<line x1="469.20" y1="169.20" x2="469.20" y2="406.50" stroke="#333" stroke-width="1.20"/>
<line x1="527.40" y1="172.50" x2="527.40" y2="392.00" stroke="#333" stroke-width="1.20"/>
<line x1="334.90" y1="529.80" x2="334.90" y2="484.50" stroke="#333" stroke-width="1.20"/>
<line x1="657.00" y1="464.40" x2="657.00" y2="405.50" stroke="#333" stroke-width="1.20"/>
<line x1="138.80" y1="610.50" x2="157.50" y2="583.00" stroke="#333" stroke-width="1.20"/>
<line x1="850.00" y1="408.00" x2="876.40" y2="418.40" stroke="#333" stroke-width="1.20"/>
<line x1="840.20" y1="405.20" x2="850.00" y2="408.00" stroke="#333" stroke-width="1.20"/>
<text x="119.30" y="530.30" font-size="19.2" text-anchor="middle" fill="#151515" stroke="#151515" stroke-width="0.3">+45°</text>
<text x="121.00" y="569.70" font-size="19.2" text-anchor="middle" fill="#151515" stroke="#151515" stroke-width="0.3">-45°</text>
<line x1="130.30" y1="542.80" x2="168.10" y2="539.40" stroke="#333" stroke-width="1.20"/>
<path d="M90.5,523 Q66,546.5 90.5,569.5" fill="none" stroke="#333" stroke-width="1.20"/>
<path d="M91.40,521.90 L88.50,528.19 L85.11,524.80Z" fill="#333"/>
<path d="M91.40,570.20 L85.11,567.30 L88.50,563.91Z" fill="#333"/>
<text x="931.30" y="335.70" font-size="19.2" text-anchor="middle" fill="#151515" stroke="#151515" stroke-width="0.3">+45°</text>
<text x="932.60" y="377.00" font-size="19.2" text-anchor="middle" fill="#151515" stroke="#151515" stroke-width="0.3">-45°</text>
<line x1="882.10" y1="351.60" x2="919.90" y2="348.90" stroke="#333" stroke-width="1.20"/>
<path d="M956.5,326.3 Q982,349.4 956.5,372.5" fill="none" stroke="#333" stroke-width="1.20"/>
<path d="M955.50,325.30 L961.79,328.20 L958.40,331.59Z" fill="#333"/>
<path d="M955.50,373.50 L958.40,367.21 L961.79,370.60Z" fill="#333"/>
<line x1="499.40" y1="184.90" x2="499.40" y2="353.30" stroke="#333" stroke-width="1.20" stroke-dasharray="9.8 6.2"/>
<line x1="406.20" y1="310.70" x2="406.30" y2="650.00" stroke="#333" stroke-width="1.08"/>
<path d="M406.20,310.70 L408.30,318.20 L404.10,318.20Z" fill="#333"/>
<path d="M406.30,650.00 L404.20,642.50 L408.40,642.50Z" fill="#333"/>
<text x="379.00" y="521.00" font-size="19.5" text-anchor="middle" fill="#151515" stroke="#151515" stroke-width="0.3">447</text>
<line x1="363.20" y1="317.70" x2="483.20" y2="296.00" stroke="#333" stroke-width="1.20" stroke-dasharray="9.8 6.2"/>
<line x1="500.20" y1="326.00" x2="642.90" y2="304.00" stroke="#333" stroke-width="1.08"/>
<path d="M500.20,326.00 L507.29,322.78 L507.93,326.93Z" fill="#333"/>
<path d="M642.90,304.00 L635.81,307.22 L635.17,303.07Z" fill="#333"/>
<text x="594.70" y="301.60" font-size="19.2" text-anchor="middle" fill="#151515" stroke="#151515" stroke-width="0.3">199</text>
<line x1="642.90" y1="304.00" x2="668.30" y2="299.40" stroke="#333" stroke-width="1.08"/>
<path d="M642.90,304.00 L649.91,300.60 L650.65,304.73Z" fill="#333"/>
<path d="M668.30,299.40 L661.29,302.80 L660.55,298.67Z" fill="#333"/>
<line x1="668.30" y1="299.40" x2="803.50" y2="281.00" stroke="#333" stroke-width="1.08"/>
<path d="M668.30,299.40 L675.45,296.31 L676.01,300.47Z" fill="#333"/>
<path d="M803.50,281.00 L796.35,284.09 L795.79,279.93Z" fill="#333"/>
<line x1="668.30" y1="299.40" x2="672.00" y2="298.90" stroke="#333" stroke-width="1.20"/>
<text x="657.40" y="277.30" font-size="19.2" text-anchor="middle" fill="#151515" stroke="#151515" stroke-width="0.3">36</text>
<text x="743.30" y="282.80" font-size="19.2" text-anchor="middle" fill="#151515" stroke="#151515" stroke-width="0.3">162</text>
<line x1="642.90" y1="278.00" x2="642.90" y2="366.50" stroke="#333" stroke-width="1.20" stroke-dasharray="9.8 6.2"/>
<line x1="668.30" y1="272.00" x2="668.30" y2="360.30" stroke="#333" stroke-width="1.20" stroke-dasharray="9.8 6.2"/>
<text x="464.50" y="608.10" font-size="19.2" text-anchor="middle" fill="#151515" stroke="#151515" stroke-width="0.3">Ø35</text>
<line x1="444.60" y1="610.20" x2="487.10" y2="610.20" stroke="#333" stroke-width="1.20"/>
<line x1="487.10" y1="610.20" x2="516.30" y2="610.20" stroke="#333" stroke-width="1.08"/>
<path d="M487.10,610.20 L494.60,608.10 L494.60,612.30Z" fill="#333"/>
<path d="M516.30,610.20 L508.80,612.30 L508.80,608.10Z" fill="#333"/>
<line x1="567.90" y1="659.20" x2="622.30" y2="641.70" stroke="#333" stroke-width="1.20" stroke-dasharray="9.8 6.2"/>
<line x1="581.80" y1="664.70" x2="642.50" y2="646.60" stroke="#333" stroke-width="1.20" stroke-dasharray="9.8 6.2"/>
<line x1="613.90" y1="643.80" x2="637.60" y2="648.00" stroke="#333" stroke-width="1.08"/>
<path d="M613.90,643.80 L621.65,643.04 L620.92,647.18Z" fill="#333"/>
<path d="M637.60,648.00 L629.85,648.76 L630.58,644.62Z" fill="#333"/>
<line x1="629.20" y1="648.00" x2="670.40" y2="650.40" stroke="#333" stroke-width="1.20"/>
<text x="658.00" y="646.60" font-size="19.2" text-anchor="middle" fill="#151515" stroke="#151515" stroke-width="0.3">22</text>
<line x1="640.50" y1="741.30" x2="720.50" y2="711.80" stroke="#333" stroke-width="1.08"/>
<path d="M640.50,741.30 L646.81,736.73 L648.26,740.68Z" fill="#333"/>
<path d="M720.50,711.80 L714.19,716.37 L712.74,712.42Z" fill="#333"/>
<text x="668.20" y="727.30" font-size="19.2" text-anchor="middle" fill="#151515" stroke="#151515" stroke-width="0.3" transform="rotate(-20.2 668.20 727.30)">100</text>
<line x1="520.70" y1="692.10" x2="663.10" y2="751.70" stroke="#333" stroke-width="1.20" stroke-dasharray="9.8 6.2"/>
<line x1="593.20" y1="668.80" x2="735.60" y2="716.70" stroke="#333" stroke-width="1.20" stroke-dasharray="9.8 6.2"/>
<line x1="563.30" y1="834.90" x2="873.50" y2="715.90" stroke="#333" stroke-width="1.08"/>
<path d="M563.30,834.90 L569.55,830.25 L571.05,834.17Z" fill="#333"/>
<path d="M873.50,715.90 L867.25,720.55 L865.75,716.63Z" fill="#333"/>
<text x="705.30" y="768.80" font-size="19.2" text-anchor="middle" fill="#151515" stroke="#151515" stroke-width="0.3" transform="rotate(-24 705.30 768.80)">420</text>
<line x1="760.50" y1="680.00" x2="893.20" y2="722.30" stroke="#333" stroke-width="1.20" stroke-dasharray="9.8 6.2"/>
<line x1="456.40" y1="791.80" x2="600.10" y2="850.80" stroke="#333" stroke-width="1.20" stroke-dasharray="9.8 6.2"/>
<line x1="50.20" y1="743.40" x2="186.20" y2="879.40" stroke="#333" stroke-width="1.08"/>
<path d="M50.20,743.40 L56.99,747.22 L54.02,750.19Z" fill="#333"/>
<path d="M186.20,879.40 L179.41,875.58 L182.38,872.61Z" fill="#333"/>
<text x="93.10" y="829.20" font-size="19.2" text-anchor="middle" fill="#151515" stroke="#151515" stroke-width="0.3">297</text>
<line x1="20.20" y1="750.10" x2="418.80" y2="649.30" stroke="#333" stroke-width="1.20" stroke-dasharray="9.8 6.2" stroke-dashoffset="6.3"/>
<line x1="140.20" y1="895.30" x2="456.40" y2="791.80" stroke="#333" stroke-width="1.20" stroke-dasharray="9.8 6.2"/>
<line x1="845.00" y1="316.50" x2="893.70" y2="305.50" stroke="#333" stroke-width="1.20" stroke-dasharray="9.8 6.2"/>
<line x1="832.90" y1="332.20" x2="866.90" y2="327.40" stroke="#333" stroke-width="1.20"/>
<line x1="873.00" y1="311.60" x2="873.00" y2="397.90" stroke="#333" stroke-width="1.08"/>
<path d="M873.00,311.60 L875.10,319.10 L870.90,319.10Z" fill="#333"/>
<path d="M873.00,397.90 L870.90,390.40 L875.10,390.40Z" fill="#333"/>
<line x1="850.40" y1="332.20" x2="850.40" y2="395.40" stroke="#333" stroke-width="1.08"/>
<path d="M850.40,332.20 L852.50,339.70 L848.30,339.70Z" fill="#333"/>
<path d="M850.40,395.40 L848.30,387.90 L852.50,387.90Z" fill="#333"/>
<line x1="840.20" y1="399.10" x2="868.10" y2="393.00" stroke="#333" stroke-width="1.20"/>
<line x1="840.00" y1="405.00" x2="892.40" y2="394.20" stroke="#333" stroke-width="1.20" stroke-dasharray="9.8 6.2"/>
<text x="847.00" y="364.40" font-size="19.2" text-anchor="middle" fill="#151515" stroke="#151515" stroke-width="0.3" transform="rotate(-90 847.00 364.40)">100</text>
<text x="868.80" y="361.70" font-size="19.2" text-anchor="middle" fill="#151515" stroke="#151515" stroke-width="0.3" transform="rotate(-90 868.80 361.70)">114</text>
<line x1="781.40" y1="430.30" x2="826.20" y2="418.40" stroke="#333" stroke-width="1.08"/>
<path d="M781.40,430.30 L788.11,426.34 L789.19,430.40Z" fill="#333"/>
<path d="M826.20,418.40 L819.49,422.36 L818.41,418.30Z" fill="#333"/>
<text x="803.80" y="421.60" font-size="19.2" text-anchor="middle" fill="#151515" stroke="#151515" stroke-width="0.3" transform="rotate(-15 803.80 421.60)">75</text>
<line x1="767.00" y1="461.20" x2="838.70" y2="440.80" stroke="#333" stroke-width="1.08"/>
<path d="M767.00,461.20 L773.64,457.13 L774.79,461.17Z" fill="#333"/>
<path d="M838.70,440.80 L832.06,444.87 L830.91,440.83Z" fill="#333"/>
<text x="805.50" y="448.00" font-size="19.2" text-anchor="middle" fill="#151515" stroke="#151515" stroke-width="0.3" transform="rotate(-15 805.50 448.00)">114</text>
<line x1="766.40" y1="424.00" x2="766.40" y2="488.00" stroke="#333" stroke-width="1.20" stroke-dasharray="9.8 6.2"/>
<line x1="779.80" y1="405.00" x2="779.80" y2="442.50" stroke="#333" stroke-width="1.20" stroke-dasharray="9.8 6.2"/>
<line x1="827.90" y1="393.00" x2="827.90" y2="433.50" stroke="#333" stroke-width="1.20" stroke-dasharray="9.8 6.2"/>
<line x1="840.20" y1="405.00" x2="840.20" y2="473.00" stroke="#333" stroke-width="1.20" stroke-dasharray="9.8 6.2"/>
<text x="18.6" y="984.6" font-size="27" fill="#8c8c8c" stroke="#8c8c8c" stroke-width="1.0" stroke-linejoin="round" textLength="143" lengthAdjust="spacingAndGlyphs">Neomounts</text>
<text x="805" y="985.2" font-size="19.5" fill="#111" textLength="175.5" lengthAdjust="spacingAndGlyphs">Measuring unit: mm</text>
</svg></body></html>
